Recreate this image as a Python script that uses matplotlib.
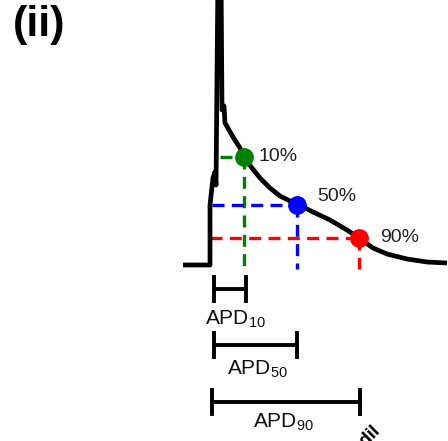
"""Action potential schematic with APD10 / APD50 / APD90 markers."""
import matplotlib

matplotlib.use("Agg")
import matplotlib.pyplot as plt

# trace: time (ms) and membrane voltage (mV)
trace_t = [-54, 0, 0, 6, 10, 12, 16, 22, 24, 28, 30, 46, 60, 68, 84, 100, 120, 140,
           160, 174, 206, 240, 274, 298, 326, 354, 394, 434, 474]
trace_v = [-80, -80, -50, -36.5, -33.5, -40, 67.5, 67.5, -2.5, -0.5, -9, -16, -21.5,
           -26, -31.5, -36.5, -41.5, -45.5, -48, -49.5, -53.5, -57.5, -62.5, -66.5,
           -71.5, -74.5, -77, -78.5, -79]

# repolarisation points
apd_pct = [10, 50, 90]
apd_t = [68, 174, 298]
apd_v = [-26, -50, -66.5]
apd_hstart = [20, 4, 0]       # where the horizontal guide starts (ms)
apd_colors = ["#008000", "#0000ff", "#ff0000"]
label_off = [[8, 0], [18, 4], [20, 0]]  # offset for the % labels (ms, mV)

# APD bars below the trace
bar_start = [8, 8, 4]
bar_end = [72, 174, 300]
bar_v = [-92, -120, -148.5]
bar_text_t = [-10, 34, 86]
bar_text_v = [-110, -135, -161.5]

INK = "black"
plt.rcParams.update({"font.family": ["Liberation Sans", "DejaVu Sans"],
                     "mathtext.fontset": "custom",
                     "mathtext.rm": "Liberation Sans",
                     "mathtext.it": "Liberation Sans"})

fig = plt.figure(figsize=(4.48, 4.41), dpi=100)
ax = fig.add_axes([0, 0, 1, 1])
ax.set_xlim(-420, 476)
ax.set_ylim(-168, 52.5)
ax.axis("off")

dash = (0, (3.6, 2.2))
for pct, t, v, h0, c, off in zip(apd_pct, apd_t, apd_v, apd_hstart, apd_colors, label_off):
    ax.plot([h0, t], [v, v], color=c, lw=2.4, ls=dash, zorder=2)
    ax.plot([t, t], [v, -82], color=c, lw=2.4, ls=dash, zorder=2)

ax.plot(trace_t, trace_v, color=INK, lw=3.4, solid_joinstyle="round",
        solid_capstyle="butt", zorder=3)

for pct, t, v, c, off in zip(apd_pct, apd_t, apd_v, apd_colors, label_off):
    ax.plot(t, v, "o", color=c, ms=12.5, zorder=4)
    ax.text(t + 22 + off[0], v + off[1], f"{pct}%", fontsize=14, va="center",
            ha="left", color="#222222")

for pct, s, e, v, tt, tv in zip(apd_pct, bar_start, bar_end, bar_v, bar_text_t, bar_text_v):
    ax.plot([s, e], [v, v], color=INK, lw=2.8)
    for x in (s, e):
        ax.plot([x, x], [v - 6, v + 6], color=INK, lw=2.8)
    ax.text(tt, tv, r"APD$_{%d}$" % pct, fontsize=15, ha="left", va="baseline",
            color="#111111")

# clipped tick label from the neighbouring panel
ax.text(342, -163, "Nicorandil", fontsize=13, fontweight="bold", rotation=45,
        rotation_mode="anchor", ha="right", va="baseline", color=INK)

fig.text(13 / 448, 1 - 5 / 441, "(ii)", fontsize=31, fontweight="bold", ha="left",
         va="top", color=INK)

fig.savefig("out.png", dpi=100, facecolor="white")
